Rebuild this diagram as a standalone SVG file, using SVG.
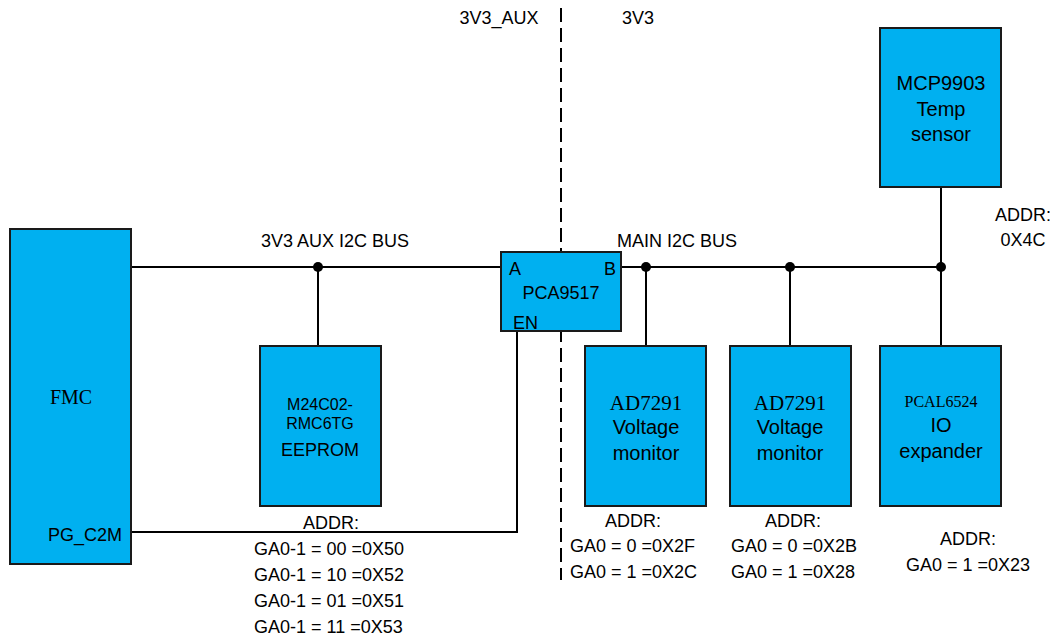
<svg xmlns="http://www.w3.org/2000/svg" width="1053" height="635" viewBox="0 0 1053 635">
<style>
.box{fill:#00B0F0;stroke:#1a1a1a;stroke-width:2}
.w{stroke:#000;stroke-width:2;fill:none}
.dash{stroke:#000;stroke-width:2;fill:none;stroke-dasharray:14 6}
.dot{fill:#000}
text{font-family:"Liberation Sans",Arial,sans-serif;font-size:18px;fill:#000}
.c{text-anchor:middle}
.b{font-size:20px}
.sm{font-size:16px}
.s{font-family:"Liberation Serif","Times New Roman",serif;font-size:21px}
.ss{font-family:"Liberation Serif","Times New Roman",serif;font-size:16px}
</style>
<rect width="1053" height="635" fill="#fff"/>
<g id="connectors">
<line class="dash" x1="561" y1="8" x2="561" y2="580"/>
<line class="w" x1="131" y1="267" x2="501" y2="267"/>
<line class="w" x1="621" y1="267" x2="941" y2="267"/>
<line class="w" x1="318" y1="267" x2="318" y2="346"/>
<line class="w" x1="646" y1="267" x2="646" y2="346"/>
<line class="w" x1="790" y1="267" x2="790" y2="346"/>
<line class="w" x1="941" y1="187" x2="941" y2="346"/>
<polyline class="w" points="131,532 517,532 517,331"/>
<circle class="dot" cx="318" cy="267" r="5"/>
<circle class="dot" cx="646" cy="267" r="5"/>
<circle class="dot" cx="790" cy="267" r="5"/>
<circle class="dot" cx="941" cy="267" r="5"/>
</g>
<g id="labels">
<text class="c" x="499" y="24">3V3_AUX</text>
<text class="c" x="638" y="24">3V3</text>
<text class="c" x="335" y="247">3V3 AUX I2C BUS</text>
<text class="c" x="677" y="247">MAIN I2C BUS</text>
<text class="c" x="1023" y="221">ADDR:</text>
<text class="c" x="1023" y="246">0X4C</text>
</g>
<g id="fmc">
<rect class="box" x="10" y="229" width="121" height="335"/>
<text class="c s" x="71" y="404" style="font-size:20px">FMC</text>
<text x="122" y="541" text-anchor="end">PG_C2M</text>
</g>
<g id="eeprom">
<rect class="box" x="260" y="346" width="121" height="160"/>
<text class="c sm" x="320" y="410">M24C02-</text>
<text class="c sm" x="320" y="429">RMC6TG</text>
<text class="c" x="320" y="456">EEPROM</text>
<text class="c" x="331" y="529">ADDR:</text>
<text x="254" y="555">GA0-1 = 00 =0X50</text>
<text x="254" y="581">GA0-1 = 10 =0X52</text>
<text x="254" y="607">GA0-1 = 01 =0X51</text>
<text x="254" y="633">GA0-1 = 11 =0X53</text>
</g>
<g id="pca9517">
<rect class="box" x="501" y="252" width="120" height="79"/>
<text x="509" y="275">A</text>
<text x="604" y="275">B</text>
<text class="c" x="561" y="299">PCA9517</text>
<text x="513" y="329">EN</text>
</g>
<g id="ad7291a">
<rect class="box" x="585" y="346" width="121" height="160"/>
<text class="c s" x="646" y="410">AD7291</text>
<text class="c b" x="646" y="434">Voltage</text>
<text class="c b" x="646" y="460">monitor</text>
<text class="c" x="633" y="527">ADDR:</text>
<text x="570" y="552">GA0 = 0 =0X2F</text>
<text x="570" y="578">GA0 = 1 =0X2C</text>
</g>
<g id="ad7291b">
<rect class="box" x="730" y="346" width="121" height="160"/>
<text class="c s" x="790" y="410">AD7291</text>
<text class="c b" x="790" y="434">Voltage</text>
<text class="c b" x="790" y="460">monitor</text>
<text class="c" x="793" y="527">ADDR:</text>
<text x="731" y="552">GA0 = 0 =0X2B</text>
<text x="731" y="578">GA0 = 1 =0X28</text>
</g>
<g id="pcal6524">
<rect class="box" x="880" y="346" width="121" height="160"/>
<text class="c ss" x="941" y="407">PCAL6524</text>
<text class="c b" x="941" y="432">IO</text>
<text class="c b" x="941" y="458">expander</text>
<text class="c" x="968" y="545">ADDR:</text>
<text class="c" x="968" y="571">GA0 = 1 =0X23</text>
</g>
<g id="mcp9903">
<rect class="box" x="880" y="28" width="121" height="159"/>
<text class="c b" x="941" y="90">MCP9903</text>
<text class="c b" x="941" y="116">Temp</text>
<text class="c b" x="941" y="141">sensor</text>
</g>
</svg>
